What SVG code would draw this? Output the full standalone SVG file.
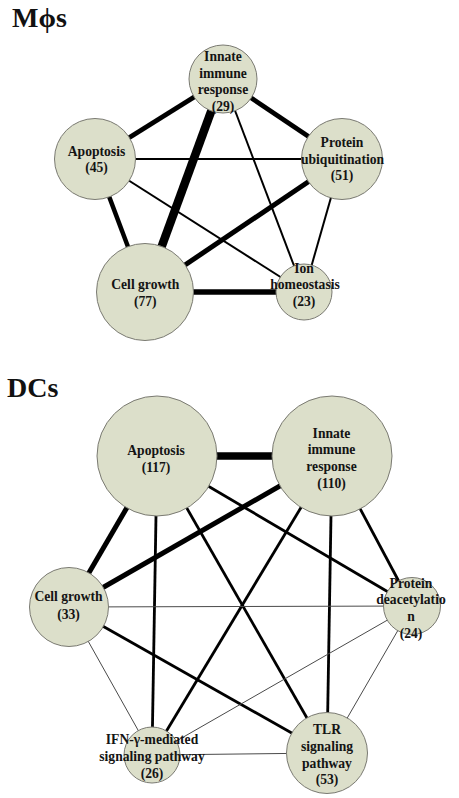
<svg xmlns="http://www.w3.org/2000/svg" width="459" height="798" viewBox="0 0 459 798">
<style>
.title{font-family:"Liberation Serif","Times New Roman",serif;font-weight:bold;font-size:28px;fill:#111}
.lbl{font-family:"Liberation Serif","Times New Roman",serif;font-weight:bold;font-size:13.6px;fill:#141414;text-anchor:middle}
.node{fill:#dcdfca;stroke:#7a7a72;stroke-width:1}
.e{stroke:#000;fill:none}
.thin{stroke:#4a4a4a;stroke-width:1}
</style>
<rect width="459" height="798" fill="#fff"/>
<text class="title" x="12" y="27">Mϕs</text>
<text class="title" x="7" y="397">DCs</text>

<g id="connectors">
  <!-- Mphis -->
  <line class="e" x1="223" y1="79" x2="95" y2="159" stroke-width="5"/>
  <line class="e" x1="223" y1="79" x2="342" y2="159" stroke-width="4.7"/>
  <line class="e" x1="223" y1="79" x2="145" y2="292" stroke-width="8.5"/>
  <line class="e" x1="223" y1="79" x2="304" y2="292" stroke-width="2"/>
  <line class="e" x1="95" y1="159" x2="342" y2="159" stroke-width="2"/>
  <line class="e" x1="95" y1="159" x2="145" y2="292" stroke-width="4.5"/>
  <line class="e" x1="95" y1="159" x2="304" y2="292" stroke-width="2"/>
  <line class="e" x1="342" y1="159" x2="145" y2="292" stroke-width="5"/>
  <line class="e" x1="342" y1="159" x2="304" y2="292" stroke-width="2"/>
  <line class="e" x1="145" y1="292" x2="304" y2="292" stroke-width="5.3"/>
  <!-- DCs -->
  <line class="e" x1="157" y1="456" x2="332" y2="456" stroke-width="7.3"/>
  <line class="e" x1="157" y1="456" x2="69" y2="607" stroke-width="5"/>
  <line class="e" x1="332" y1="456" x2="69" y2="607" stroke-width="5"/>
  <line class="e" x1="157" y1="456" x2="152" y2="755" stroke-width="2.8"/>
  <line class="e" x1="157" y1="456" x2="327" y2="753" stroke-width="2.8"/>
  <line class="e" x1="157" y1="456" x2="412" y2="606" stroke-width="2.8"/>
  <line class="e" x1="332" y1="456" x2="412" y2="606" stroke-width="2.8"/>
  <line class="e" x1="332" y1="456" x2="327" y2="753" stroke-width="2.8"/>
  <line class="e" x1="332" y1="456" x2="152" y2="755" stroke-width="2.8"/>
  <line class="e" x1="69" y1="607" x2="327" y2="753" stroke-width="2.8"/>
  <line class="e thin" x1="69" y1="607" x2="412" y2="606"/>
  <line class="e thin" x1="69" y1="607" x2="152" y2="755"/>
  <line class="e thin" x1="152" y1="755" x2="412" y2="606"/>
  <line class="e thin" x1="152" y1="755" x2="327" y2="753" stroke-width="1.3"/>
  <line class="e thin" x1="412" y1="606" x2="327" y2="753"/>
</g>

<g id="m-innate">
  <circle class="node" cx="223" cy="79" r="34"/>
  <text class="lbl" x="223" y="61">Innate</text>
  <text class="lbl" x="223" y="77.5">immune</text>
  <text class="lbl" x="223" y="94">response</text>
  <text class="lbl" x="223" y="110.5">(29)</text>
</g>
<g id="m-apoptosis">
  <circle class="node" cx="95" cy="159" r="40.5"/>
  <text class="lbl" x="96.5" y="155.5">Apoptosis</text>
  <text class="lbl" x="96.5" y="172">(45)</text>
</g>
<g id="m-protein">
  <circle class="node" cx="342" cy="159" r="40.5"/>
  <text class="lbl" x="342" y="147">Protein</text>
  <text class="lbl" x="342.5" y="163.5">ubiquitination</text>
  <text class="lbl" x="342" y="180">(51)</text>
</g>
<g id="m-cellgrowth">
  <circle class="node" cx="145" cy="292" r="48.5"/>
  <text class="lbl" x="145.3" y="289">Cell growth</text>
  <text class="lbl" x="145.3" y="306">(77)</text>
</g>
<g id="m-ion">
  <circle class="node" cx="304" cy="292" r="28"/>
  <text class="lbl" x="304" y="272.5">Ion</text>
  <text class="lbl" x="305" y="289">homeostasis</text>
  <text class="lbl" x="304" y="306">(23)</text>
</g>

<g id="d-apoptosis">
  <circle class="node" cx="157" cy="456" r="60"/>
  <text class="lbl" x="156" y="455">Apoptosis</text>
  <text class="lbl" x="156" y="471.5">(117)</text>
</g>
<g id="d-innate">
  <circle class="node" cx="332" cy="456" r="60"/>
  <text class="lbl" x="331.5" y="437.5">Innate</text>
  <text class="lbl" x="331.5" y="454">immune</text>
  <text class="lbl" x="331.5" y="471">response</text>
  <text class="lbl" x="331.5" y="487.5">(110)</text>
</g>
<g id="d-cellgrowth">
  <circle class="node" cx="69" cy="607" r="39.5"/>
  <text class="lbl" x="68.5" y="601">Cell growth</text>
  <text class="lbl" x="68.5" y="618.5">(33)</text>
</g>
<g id="d-protein">
  <circle class="node" cx="412" cy="606" r="28.5"/>
  <text class="lbl" x="411" y="587.5">Protein</text>
  <text class="lbl" x="411" y="604">deacetylatio</text>
  <text class="lbl" x="411" y="621">n</text>
  <text class="lbl" x="411" y="637.5">(24)</text>
</g>
<g id="d-ifn">
  <circle class="node" cx="152" cy="755" r="28"/>
  <text class="lbl" x="152" y="744">IFN-γ-mediated</text>
  <text class="lbl" x="152" y="761">signaling pathway</text>
  <text class="lbl" x="152" y="777.5">(26)</text>
</g>
<g id="d-tlr">
  <circle class="node" cx="327" cy="753" r="40.5"/>
  <text class="lbl" x="327" y="734">TLR</text>
  <text class="lbl" x="327" y="751">signaling</text>
  <text class="lbl" x="327" y="767.5">pathway</text>
  <text class="lbl" x="327" y="784">(53)</text>
</g>
</svg>
